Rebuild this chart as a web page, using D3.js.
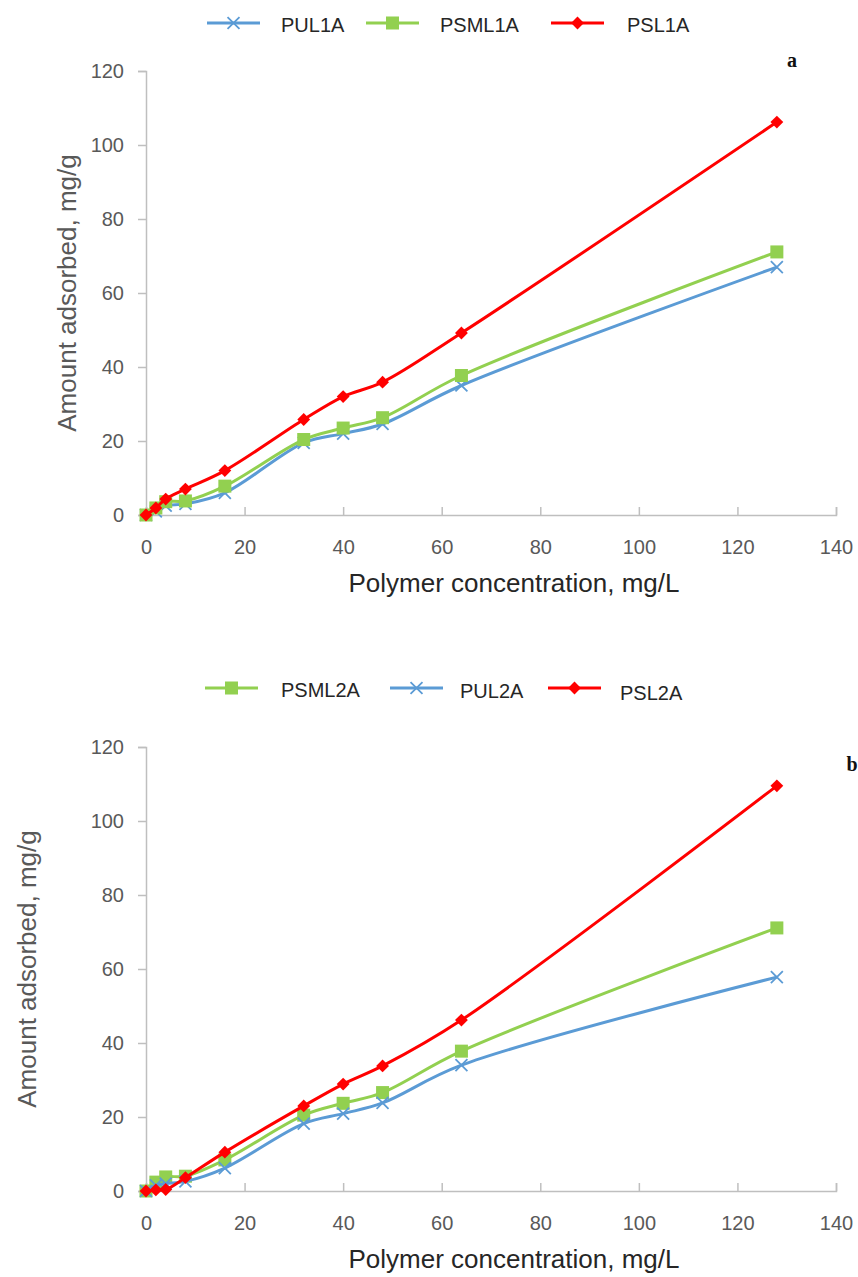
<!DOCTYPE html>
<html>
<head>
<meta charset="utf-8">
<script src="https://cdnjs.cloudflare.com/ajax/libs/d3/7.8.5/d3.min.js"></script>
<style>
  body { margin: 0; background: #fff; }
  svg { display: block; font-family: "Liberation Sans", Arial, sans-serif; }
</style>
</head>
<body>
<div id="chart"></div>
<script>
// polymer concentration, mg/L
var concentration = [0, 2, 4, 8, 16, 32, 40, 48, 64, 128];

// panel a
var pul1a = [0, 1, 2.5, 3, 6, 19.5, 22, 24.6, 35, 67];
var psml1a = [0, 1.9, 3.6, 3.8, 7.8, 20.4, 23.5, 26.3, 37.7, 71.1];
var psl1a = [0, 1.9, 4.3, 7, 12, 25.8, 32, 35.9, 49.2, 106.2];

// panel b
var psml2a = [0, 2.4, 3.8, 4, 8.4, 20.5, 23.7, 26.6, 37.8, 71.1];
var pul2a = [0, 1.5, 2, 2.6, 6.2, 18.2, 20.9, 23.8, 34, 57.8];
var psl2a = [0, 0.3, 0.4, 3.6, 10.5, 23, 28.9, 33.8, 46.2, 109.5];

var xTicks = [0, 20, 40, 60, 80, 100, 120, 140];
var yTicks = [0, 20, 40, 60, 80, 100, 120];

var blue = "#5B9BD5", green = "#92D050", red = "#FF0000";

var W = 858, H = 1277;
var svg = d3.select("#chart").append("svg")
    .attr("width", W)
    .attr("height", H);

var x = d3.scaleLinear().domain([0, 140]).range([146, 836]);

function marker(g, type, color, cx, cy) {
    if (type == "x") {
        g.append("path")
            .attr("d", d3.symbol().type(d3.symbolX).size(95)())
            .attr("transform", "translate(" + cx + "," + cy + ")")
            .style("stroke", color)
            .style("stroke-width", 1.8)
            .style("fill", "none");
    } else if (type == "square") {
        g.append("rect")
            .attr("x", cx - 6.5).attr("y", cy - 6.5)
            .attr("width", 13).attr("height", 13)
            .style("fill", color);
    } else {
        g.append("path")
            .attr("d", d3.symbol().type(d3.symbolDiamond2).size(105)())
            .attr("transform", "translate(" + cx + "," + cy + ")")
            .style("fill", color);
    }
}

function panel(opts) {
    var y = d3.scaleLinear().domain([0, 120]).range([opts.y0, opts.y0 - 444]);
    var g = svg.append("g");

    // axes
    var yAxis = g.append("g")
        .attr("transform", "translate(" + x(0) + ",0)")
        .call(d3.axisLeft(y).tickValues(yTicks).tickSize(8).tickPadding(14));
    var xAxis = g.append("g")
        .attr("transform", "translate(0," + y(0) + ")")
        .call(d3.axisBottom(x).tickValues(xTicks).tickSize(-8).tickPadding(25));
    [xAxis, yAxis].forEach(function (a) {
        a.select(".domain").style("stroke", "#BFBFBF").style("stroke-width", 1.5);
        a.selectAll(".tick line").style("stroke", "#BFBFBF").style("stroke-width", 1.5);
        a.selectAll("text")
            .style("font-size", "20px")
            .style("fill", "#595959")
            .style("font-family", "Liberation Sans, Arial, sans-serif");
    });

    // axis titles
    g.append("text")
        .attr("x", 514)
        .attr("y", opts.y0 + 77)
        .attr("text-anchor", "middle")
        .style("font-size", "26px")
        .style("fill", "#262626")
        .text("Polymer concentration, mg/L");
    g.append("text")
        .attr("transform", "translate(" + opts.titleX + "," + (opts.y0 - 222) + ") rotate(-90)")
        .attr("text-anchor", "middle")
        .style("font-size", "26px")
        .style("fill", "#595959")
        .text("Amount adsorbed, mg/g");

    // panel letter
    g.append("text")
        .attr("x", opts.letterX)
        .attr("y", opts.letterY)
        .attr("text-anchor", "middle")
        .style("font-family", "Liberation Serif, serif")
        .style("font-weight", "bold")
        .style("font-size", "20px")
        .style("fill", "#111")
        .text(opts.letter);

    // smoothed lines, like the spreadsheet's "smooth line" option
    var line = d3.line()
        .x(function (d) { return x(d[0]); })
        .y(function (d) { return y(d[1]); })
        .curve(d3.curveCatmullRom.alpha(0.5));

    opts.series.forEach(function (s) {
        var pts = concentration.map(function (c, i) { return [c, s.values[i]]; });
        var sg = g.append("g");
        sg.append("path")
            .datum(pts)
            .attr("d", line)
            .style("fill", "none")
            .style("stroke", s.color)
            .style("stroke-width", 3)
            .style("stroke-linejoin", "round");
        pts.forEach(function (p) {
            marker(sg, s.marker, s.color, x(p[0]), y(p[1]));
        });
    });

    // legend
    var lg = g.append("g");
    opts.legend.forEach(function (s) {
        var lx = s.lx, ly = opts.legendY;
        lg.append("line")
            .attr("x1", lx).attr("x2", lx + 53)
            .attr("y1", ly).attr("y2", ly)
            .style("stroke", s.color)
            .style("stroke-width", 3);
        marker(lg, s.marker, s.color, lx + 26.5, ly);
        lg.append("text")
            .attr("x", s.tx)
            .attr("y", ly + s.dy)
            .style("font-size", "20px")
            .style("fill", "#262626")
            .text(s.name);
    });
}

var sA = [
    {name: "PUL1A", values: pul1a, color: blue, marker: "x", lx: 207, tx: 281, dy: 9},
    {name: "PSML1A", values: psml1a, color: green, marker: "square", lx: 366, tx: 440, dy: 9},
    {name: "PSL1A", values: psl1a, color: red, marker: "diamond", lx: 551, tx: 627, dy: 9}
];
panel({
    y0: 515, titleX: 76, letter: "a", letterX: 792, letterY: 67,
    legendY: 23, series: sA, legend: sA
});

var sB = [
    {name: "PSML2A", values: psml2a, color: green, marker: "square", lx: 205, tx: 281, dy: 9},
    {name: "PUL2A", values: pul2a, color: blue, marker: "x", lx: 390, tx: 460, dy: 10},
    {name: "PSL2A", values: psl2a, color: red, marker: "diamond", lx: 548, tx: 620, dy: 12}
];
panel({
    y0: 1191, titleX: 36, letter: "b", letterX: 852, letterY: 771,
    legendY: 688, series: sB, legend: sB
});
</script>
</body>
</html>
